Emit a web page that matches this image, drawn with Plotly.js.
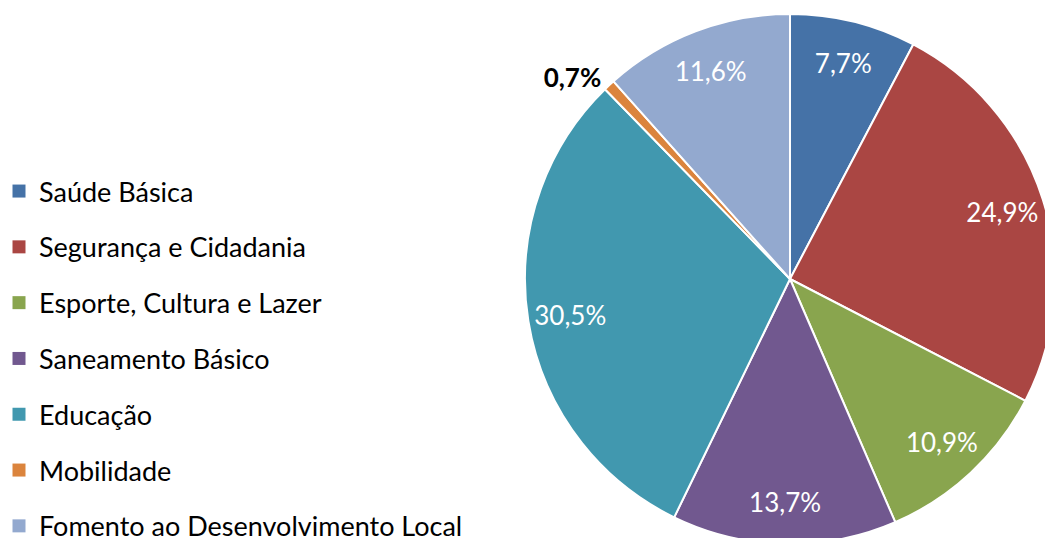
<!DOCTYPE html>
<html>
<head>
<meta charset="utf-8">
<script src="https://cdn.plot.ly/plotly-3.0.1.min.js"></script>
<style>
html,body{margin:0;padding:0;overflow:hidden;background:#fff;}
#chart{width:1060px;height:550px;}
</style>
</head>
<body>
<div id="chart"></div>
<script>
var categories = ["Saúde Básica","Segurança e Cidadania","Esporte, Cultura e Lazer","Saneamento Básico","Educação","Mobilidade","Fomento ao Desenvolvimento Local"];
var shares = [7.7, 24.9, 10.9, 13.7, 30.5, 0.7, 11.6];
var colors = ["#4572A7","#AA4643","#89A54E","#71588F","#4198AF","#DB843D","#93A9CF"];

var FONT = "Lato, 'Open Sans', sans-serif";
var W = 1060, H = 550;
var cx = 790, cy = 279, r = 265;
var dom = {x: [(cx - r) / W, (cx + r) / W], y: [(H - cy - r) / H, (H - cy + r) / H]};

var textpos = shares.map(function(v){ return v < 2 ? "outside" : "inside"; });

// visible slices
var pie = {
  type: "pie",
  labels: categories,
  values: shares,
  sort: false,
  direction: "clockwise",
  rotation: 0,
  marker: {colors: colors, line: {color: "#ffffff", width: 2}},
  textinfo: "none",
  showlegend: false,
  hoverinfo: "label+percent",
  domain: dom
};

// transparent ring carrying the percentage labels (places them toward the rim)
var labelsRing = {
  type: "pie",
  labels: categories,
  values: shares,
  sort: false,
  direction: "clockwise",
  rotation: 0,
  hole: 0.68,
  marker: {colors: categories.map(function(){ return "rgba(0,0,0,0)"; }), line: {width: 0}},
  texttemplate: "%{percent:.1%}",
  textposition: textpos,
  insidetextorientation: "horizontal",
  insidetextfont: {color: "#ffffff", size: 26, family: FONT},
  outsidetextfont: {color: "#000000", size: 26, family: FONT, weight: "bold"},
  showlegend: false,
  hoverinfo: "skip",
  domain: dom
};

var traces = [pie, labelsRing];
categories.forEach(function(c, i){
  traces.push({
    type: "scatter",
    mode: "markers",
    x: [null], y: [null],
    name: c,
    legendgroup: "g" + i,
    marker: {symbol: "square", size: 13, color: colors[i]},
    hoverinfo: "skip",
    showlegend: true
  });
});

var layout = {
  width: W, height: H,
  margin: {l: 0, r: 0, t: 0, b: 0, autoexpand: false},
  paper_bgcolor: "#ffffff",
  plot_bgcolor: "#ffffff",
  separators: ",.",
  font: {family: FONT, color: "#000000"},
  xaxis: {visible: false, domain: [0, 0.01]},
  yaxis: {visible: false, domain: [0, 0.01]},
  showlegend: true,
  legend: {
    x: -1 / W, xanchor: "left",
    y: (H - 167) / H, yanchor: "top",
    traceorder: "grouped",
    tracegroupgap: 17.7,
    font: {family: FONT, size: 27, color: "#000000"},
    bgcolor: "rgba(0,0,0,0)",
    itemclick: false, itemdoubleclick: false
  }
};

Plotly.newPlot("chart", traces, layout, {displayModeBar: false, staticPlot: true});
</script>
</body>
</html>
